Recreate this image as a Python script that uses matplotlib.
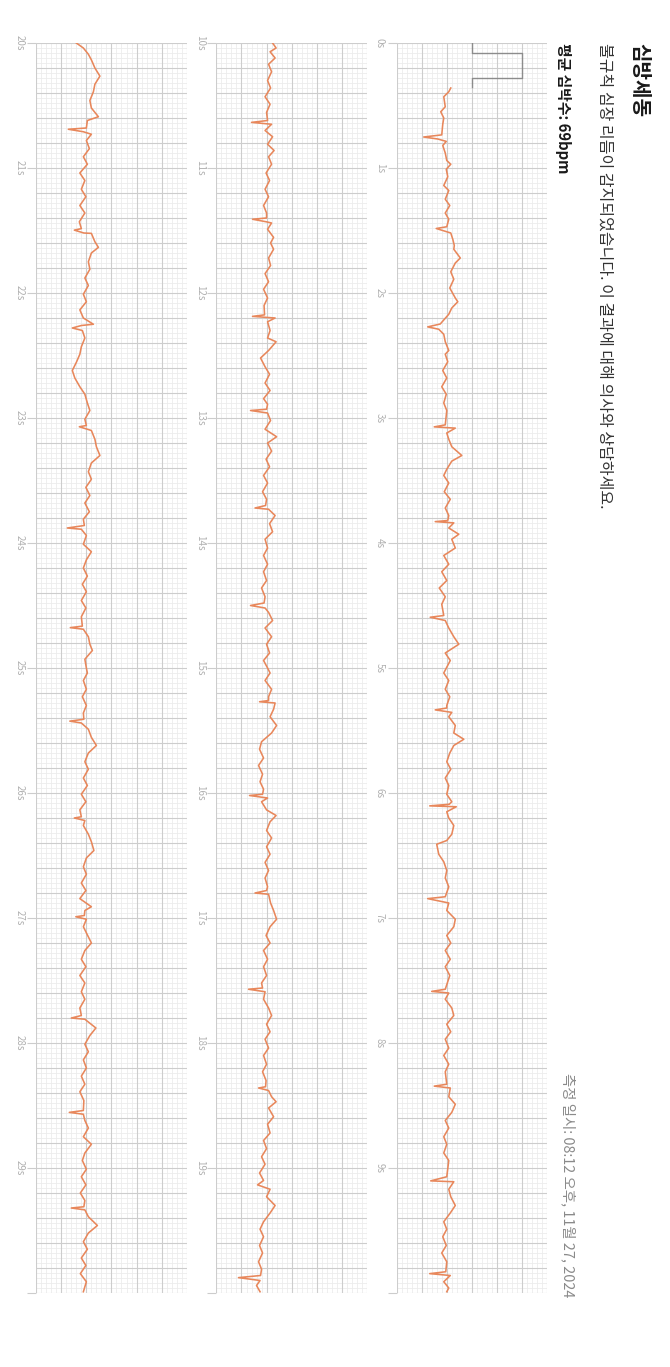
import numpy as np
import matplotlib
matplotlib.use("Agg")
import matplotlib.pyplot as plt

plt.rcParams['font.family'] = ['Noto Sans CJK KR', 'DejaVu Sans']

# ---------------- data ----------------
title = "심방세동"
subtitle = "불규칙 심장 리듬이 감지되었습니다. 이 결과에 대해 의사와 상담하세요."
avg_hr = "평균 심박수: 69bpm"
measured = "측정 일시: 08:12 오후, 11월 27, 2024"

strip_starts = [0, 10, 20]          # seconds
strip_len = 10
volt_range = (-1.5, 1.5)            # mV

# calibration pulse (s, mV)
cal_t = [0.0, 0.08, 0.08, 0.28, 0.28, 0.35]
cal_v = [0.0, 0.0, 1.0, 1.0, 0.0, 0.0]

# strip 1 (0-10 s): time within strip (s), value (mV)
s1_t = [0.36, 0.39, 0.43, 0.51, 0.55, 0.60, 0.65, 0.735, 0.752, 0.768, 0.787, 0.82, 0.88, 0.94, 0.97,
        1.01, 1.07, 1.14, 1.18, 1.25, 1.30, 1.36, 1.41, 1.47, 1.484, 1.503, 1.52, 1.57, 1.62, 1.65,
        1.72, 1.76, 1.83, 1.89, 1.96, 2.04, 2.07, 2.12, 2.17, 2.248, 2.271, 2.29, 2.33, 2.39, 2.46,
        2.49, 2.55, 2.62, 2.68, 2.75, 2.81, 2.88, 2.94, 3.055, 3.071, 3.081, 3.12, 3.17, 3.23, 3.30,
        3.345, 3.41, 3.46, 3.52, 3.59, 3.65, 3.72, 3.78, 3.82, 3.829, 3.839, 3.88, 3.93, 3.97, 4.04,
        4.10, 4.17, 4.23, 4.30, 4.36, 4.43, 4.49, 4.58, 4.594, 4.62, 4.68, 4.75, 4.81, 4.88, 4.94,
        5.04, 5.10, 5.17, 5.23, 5.30, 5.32, 5.335, 5.355, 5.39, 5.46, 5.52, 5.57, 5.62, 5.68, 5.75,
        5.81, 5.88, 5.94, 6.01, 6.07, 6.09, 6.103, 6.11, 6.15, 6.20, 6.26, 6.33, 6.38, 6.41, 6.49,
        6.55, 6.62, 6.68, 6.75, 6.83, 6.845, 6.88, 6.94, 7.01, 7.07, 7.14, 7.20, 7.26, 7.33, 7.39,
        7.46, 7.57, 7.587, 7.60, 7.65, 7.72, 7.78, 7.85, 7.91, 7.97, 8.04, 8.10, 8.17, 8.23, 8.33,
        8.345, 8.36, 8.43, 8.49, 8.555, 8.62, 8.68, 8.75, 8.81, 8.88, 8.94, 9.07, 9.103, 9.11, 9.17,
        9.23, 9.30, 9.36, 9.43, 9.49, 9.55, 9.62, 9.68, 9.75, 9.83, 9.845, 9.86, 9.91, 9.96, 9.99]
s1_v = [-0.42, -0.46, -0.56, -0.53, -0.62, -0.56, -0.58, -0.60, -0.96, -0.68, -0.51, -0.58, -0.53, -0.50, -0.42,
        -0.51, -0.48, -0.56, -0.46, -0.53, -0.44, -0.53, -0.46, -0.50, -0.71, -0.56, -0.42, -0.38, -0.35, -0.36,
        -0.23, -0.33, -0.42, -0.36, -0.44, -0.33, -0.28, -0.40, -0.46, -0.63, -0.88, -0.66, -0.56, -0.53, -0.46,
        -0.53, -0.48, -0.58, -0.50, -0.60, -0.51, -0.56, -0.50, -0.53, -0.75, -0.33, -0.50, -0.46, -0.40, -0.20,
        -0.40, -0.50, -0.56, -0.46, -0.55, -0.43, -0.53, -0.46, -0.48, -0.73, -0.36, -0.46, -0.26, -0.40, -0.33,
        -0.56, -0.46, -0.60, -0.50, -0.65, -0.53, -0.60, -0.56, -0.83, -0.53, -0.46, -0.36, -0.26, -0.53, -0.43,
        -0.56, -0.46, -0.53, -0.44, -0.50, -0.50, -0.73, -0.40, -0.46, -0.33, -0.36, -0.16, -0.36, -0.44, -0.50,
        -0.42, -0.53, -0.46, -0.50, -0.40, -0.45, -0.84, -0.31, -0.50, -0.46, -0.36, -0.40, -0.50, -0.70, -0.66,
        -0.56, -0.50, -0.53, -0.46, -0.53, -0.88, -0.46, -0.50, -0.33, -0.36, -0.50, -0.42, -0.53, -0.43, -0.53,
        -0.44, -0.53, -0.80, -0.46, -0.53, -0.40, -0.36, -0.50, -0.42, -0.53, -0.46, -0.56, -0.46, -0.53, -0.50,
        -0.75, -0.43, -0.46, -0.33, -0.40, -0.53, -0.46, -0.56, -0.50, -0.56, -0.46, -0.50, -0.82, -0.36, -0.46,
        -0.42, -0.33, -0.43, -0.56, -0.50, -0.58, -0.51, -0.60, -0.50, -0.52, -0.84, -0.43, -0.56, -0.46, -0.50]

# strip 2 (10-20 s)
s2_t = [0.00, 0.04, 0.07, 0.12, 0.17, 0.23, 0.30, 0.36, 0.43, 0.49, 0.555, 0.62, 0.635, 0.65, 0.70,
        0.75, 0.81, 0.86, 0.91, 0.97, 1.04, 1.10, 1.17, 1.23, 1.30, 1.36, 1.40, 1.41, 1.43, 1.44,
        1.49, 1.555, 1.60, 1.65, 1.72, 1.78, 1.845, 1.91, 1.97, 2.04, 2.10, 2.175, 2.187, 2.20, 2.23,
        2.30, 2.36, 2.39, 2.46, 2.52, 2.59, 2.65, 2.72, 2.78, 2.845, 2.89, 2.93, 2.94, 2.96, 3.02,
        3.09, 3.15, 3.20, 3.265, 3.33, 3.39, 3.46, 3.52, 3.59, 3.65, 3.70, 3.72, 3.73, 3.78, 3.845,
        3.91, 3.97, 4.04, 4.10, 4.17, 4.23, 4.30, 4.36, 4.43, 4.48, 4.50, 4.52, 4.555, 4.62, 4.68,
        4.75, 4.81, 4.88, 4.94, 5.00, 5.04, 5.10, 5.17, 5.23, 5.26, 5.27, 5.28, 5.33, 5.39, 5.46,
        5.52, 5.59, 5.65, 5.72, 5.78, 5.85, 5.91, 5.97, 6.01, 6.02, 6.04, 6.07, 6.135, 6.18, 6.23,
        6.30, 6.36, 6.43, 6.49, 6.555, 6.62, 6.68, 6.75, 6.78, 6.80, 6.81, 6.88, 6.94, 7.01, 7.07,
        7.14, 7.20, 7.26, 7.33, 7.39, 7.46, 7.52, 7.56, 7.57, 7.59, 7.65, 7.72, 7.78, 7.85, 7.91,
        7.97, 8.04, 8.10, 8.17, 8.23, 8.30, 8.35, 8.36, 8.38, 8.43, 8.47, 8.52, 8.59, 8.65, 8.72,
        8.78, 8.845, 8.91, 8.97, 9.04, 9.10, 9.135, 9.17, 9.23, 9.30, 9.36, 9.43, 9.49, 9.55, 9.62,
        9.68, 9.75, 9.81, 9.86, 9.877, 9.90, 9.94, 9.99]
s2_v = [-0.38, -0.31, -0.43, -0.33, -0.46, -0.40, -0.48, -0.42, -0.53, -0.43, -0.50, -0.48, -0.80, -0.40, -0.53,
        -0.38, -0.48, -0.35, -0.46, -0.40, -0.51, -0.44, -0.53, -0.46, -0.56, -0.50, -0.50, -0.78, -0.51, -0.40,
        -0.48, -0.36, -0.42, -0.36, -0.46, -0.42, -0.53, -0.46, -0.56, -0.48, -0.55, -0.54, -0.78, -0.33, -0.48,
        -0.43, -0.48, -0.31, -0.46, -0.62, -0.53, -0.44, -0.53, -0.43, -0.56, -0.48, -0.50, -0.82, -0.48, -0.42,
        -0.53, -0.30, -0.48, -0.40, -0.51, -0.44, -0.56, -0.48, -0.58, -0.50, -0.52, -0.73, -0.46, -0.33, -0.44,
        -0.38, -0.53, -0.48, -0.56, -0.48, -0.56, -0.50, -0.60, -0.53, -0.55, -0.82, -0.53, -0.46, -0.38, -0.53,
        -0.40, -0.50, -0.44, -0.56, -0.48, -0.43, -0.53, -0.40, -0.46, -0.46, -0.64, -0.33, -0.36, -0.43, -0.30,
        -0.40, -0.60, -0.64, -0.56, -0.66, -0.58, -0.63, -0.56, -0.58, -0.84, -0.48, -0.60, -0.50, -0.31, -0.43,
        -0.50, -0.40, -0.50, -0.43, -0.53, -0.46, -0.53, -0.48, -0.50, -0.73, -0.46, -0.42, -0.36, -0.30, -0.43,
        -0.51, -0.43, -0.56, -0.48, -0.56, -0.50, -0.60, -0.58, -0.86, -0.53, -0.56, -0.46, -0.40, -0.50, -0.43,
        -0.53, -0.46, -0.56, -0.50, -0.58, -0.51, -0.52, -0.66, -0.46, -0.40, -0.31, -0.46, -0.36, -0.48, -0.43,
        -0.56, -0.50, -0.60, -0.53, -0.64, -0.56, -0.68, -0.43, -0.50, -0.33, -0.43, -0.56, -0.63, -0.56, -0.64,
        -0.58, -0.66, -0.60, -0.62, -1.06, -0.63, -0.70, -0.63]

# strip 3 (20-30 s)
s3_t = [0.00, 0.04, 0.09, 0.135, 0.20, 0.265, 0.33, 0.39, 0.46, 0.52, 0.59, 0.62, 0.68, 0.69, 0.71,
        0.73, 0.78, 0.845, 0.91, 0.97, 1.04, 1.10, 1.17, 1.23, 1.30, 1.36, 1.43, 1.485, 1.497, 1.52,
        1.523, 1.59, 1.635, 1.68, 1.75, 1.81, 1.88, 1.94, 2.01, 2.07, 2.135, 2.20, 2.25, 2.26, 2.28,
        2.30, 2.36, 2.43, 2.49, 2.555, 2.62, 2.68, 2.75, 2.81, 2.88, 2.94, 3.01, 3.06, 3.07, 3.09,
        3.10, 3.17, 3.23, 3.30, 3.36, 3.43, 3.49, 3.555, 3.62, 3.68, 3.75, 3.81, 3.86, 3.88, 3.89,
        3.94, 4.01, 4.07, 4.135, 4.20, 4.265, 4.33, 4.39, 4.46, 4.52, 4.59, 4.665, 4.677, 4.69, 4.75,
        4.81, 4.86, 4.93, 5.00, 5.04, 5.10, 5.17, 5.23, 5.30, 5.36, 5.41, 5.425, 5.44, 5.49, 5.555,
        5.62, 5.68, 5.75, 5.81, 5.88, 5.94, 6.01, 6.07, 6.135, 6.19, 6.20, 6.22, 6.26, 6.33, 6.39,
        6.46, 6.52, 6.59, 6.65, 6.72, 6.78, 6.845, 6.91, 6.94, 6.98, 6.99, 7.01, 7.07, 7.135, 7.20,
        7.26, 7.33, 7.39, 7.46, 7.52, 7.59, 7.65, 7.72, 7.78, 7.80, 7.81, 7.88, 7.94, 8.01, 8.07,
        8.135, 8.20, 8.265, 8.33, 8.39, 8.46, 8.54, 8.555, 8.57, 8.62, 8.68, 8.75, 8.81, 8.88, 8.94,
        9.01, 9.07, 9.135, 9.20, 9.26, 9.31, 9.32, 9.335, 9.39, 9.46, 9.52, 9.59, 9.65, 9.72, 9.78,
        9.845, 9.91, 9.99]
s3_v = [-0.70, -0.56, -0.46, -0.40, -0.33, -0.23, -0.33, -0.36, -0.43, -0.40, -0.26, -0.48, -0.50, -0.86, -0.56,
        -0.40, -0.50, -0.44, -0.56, -0.48, -0.63, -0.53, -0.60, -0.51, -0.63, -0.53, -0.64, -0.60, -0.74, -0.55,
        -0.40, -0.33, -0.26, -0.40, -0.46, -0.43, -0.53, -0.46, -0.56, -0.50, -0.63, -0.56, -0.36, -0.60, -0.78,
        -0.58, -0.53, -0.60, -0.63, -0.70, -0.78, -0.73, -0.63, -0.53, -0.48, -0.43, -0.53, -0.50, -0.64, -0.48,
        -0.40, -0.33, -0.30, -0.23, -0.40, -0.46, -0.40, -0.51, -0.43, -0.53, -0.44, -0.56, -0.54, -0.88, -0.60,
        -0.50, -0.56, -0.40, -0.50, -0.56, -0.48, -0.58, -0.50, -0.60, -0.51, -0.60, -0.58, -0.82, -0.56, -0.46,
        -0.43, -0.38, -0.53, -0.50, -0.48, -0.56, -0.50, -0.58, -0.50, -0.56, -0.55, -0.83, -0.60, -0.46, -0.40,
        -0.30, -0.46, -0.53, -0.46, -0.56, -0.48, -0.60, -0.51, -0.63, -0.60, -0.74, -0.53, -0.56, -0.46, -0.40,
        -0.35, -0.50, -0.56, -0.50, -0.60, -0.51, -0.63, -0.40, -0.53, -0.54, -0.71, -0.50, -0.56, -0.48, -0.40,
        -0.53, -0.60, -0.51, -0.63, -0.53, -0.60, -0.53, -0.63, -0.60, -0.80, -0.53, -0.31, -0.43, -0.53, -0.46,
        -0.56, -0.50, -0.60, -0.53, -0.63, -0.55, -0.56, -0.84, -0.56, -0.53, -0.46, -0.56, -0.40, -0.53, -0.58,
        -0.50, -0.60, -0.51, -0.62, -0.53, -0.55, -0.80, -0.53, -0.46, -0.28, -0.46, -0.56, -0.48, -0.60, -0.51,
        -0.62, -0.50, -0.56]

strips_t = [s1_t, s2_t, s3_t]
strips_v = [s1_v, s2_v, s3_v]

# ---------------- figure ----------------
W, H = 670, 1367
fig = plt.figure(figsize=(W / 100, H / 100), dpi=100)
fig.patch.set_facecolor('white')

trace_color = '#E8875B'
minor_c = '#ececec'
major_c = '#cdcdcd'

ax_top, ax_bot = 43, 1293
ax_w = 150.5
lefts = [396.6, 216.4, 36.2]

for k, (t0, tt, vv) in enumerate(zip(strip_starts, strips_t, strips_v)):
    ax = fig.add_axes([lefts[k] / W, 1 - ax_bot / H, ax_w / W, (ax_bot - ax_top) / H])
    ax.set_xlim(*volt_range)
    ax.set_ylim(t0 + strip_len, t0)
    # ECG paper grid
    vmin = np.arange(-1.5, 1.5001, 0.1)
    tmin = t0 + np.arange(0, strip_len + 0.0001, 0.04)
    ax.vlines(vmin, t0, t0 + strip_len, colors=minor_c, lw=0.6, zorder=0)
    ax.hlines(tmin, -1.5, 1.5, colors=minor_c, lw=0.6, zorder=0)
    vmaj = np.arange(-1.5, 1.5001, 0.5)
    tmaj = t0 + np.arange(0, strip_len + 0.0001, 0.2)
    ax.vlines(vmaj, t0, t0 + strip_len, colors=major_c, lw=0.8, zorder=1)
    ax.hlines(tmaj, -1.5, 1.5, colors=major_c, lw=0.8, zorder=1)
    for s in ax.spines.values():
        s.set_visible(False)
    ax.set_xticks([])
    secs = np.arange(t0, t0 + strip_len + 1)
    ax.set_yticks(secs)
    ax.set_yticklabels([f"{int(s)}s" for s in secs[:-1]] + [""])
    ax.tick_params(axis='y', direction='out', length=6.5, width=0.8, color='#cccccc',
                   labelsize=7, labelcolor='#b0b0b0', pad=2)
    for lab in ax.get_yticklabels():
        lab.set_rotation(-90)
        lab.set_va('center')
        lab.set_ha('right')
    ax.plot(vv, t0 + np.array(tt), color=trace_color, lw=1.15, zorder=3,
            solid_joinstyle='round')
    if k == 0:
        ax.plot(cal_v, cal_t, color='#8c8c8c', lw=1.0, zorder=3)

fam = ['Noto Sans CJK KR', 'DejaVu Sans']
fig.text(640 / W, 1 - 43 / H, title, rotation=-90, ha='center', va='top',
         fontsize=14.5, fontweight='bold', color='#1a1a1a', family=fam)
fig.text(605 / W, 1 - 43 / H, subtitle, rotation=-90, ha='center', va='top',
         fontsize=11.5, color='#333333', family=fam)
fig.text(563 / W, 1 - 43 / H, avg_hr, rotation=-90, ha='center', va='top',
         fontsize=10.7, fontweight='bold', color='#1a1a1a', family=fam)
fig.text(568 / W, 1 - 1297 / H, measured, rotation=-90, ha='center', va='bottom',
         fontsize=10.4, color='#8a8a8a', family=fam)

fig.savefig('out.png', dpi=100, facecolor='white')
